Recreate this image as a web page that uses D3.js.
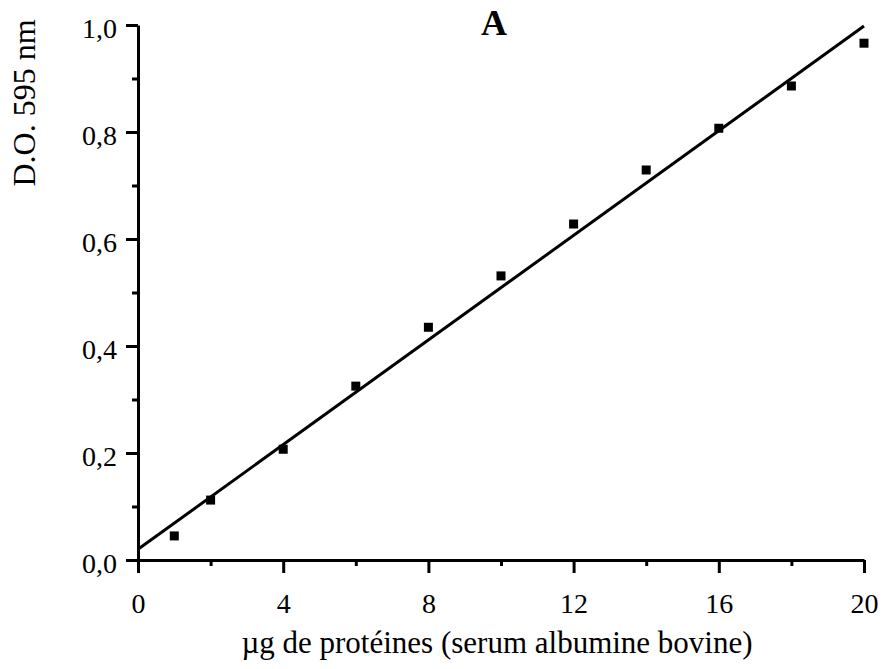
<!DOCTYPE html>
<html><head><meta charset="utf-8">
<script src="https://cdn.jsdelivr.net/npm/d3@7"></script>
<style>body{margin:0;background:#fff}svg{display:block}</style>
</head><body><svg id="c" width="885" height="669"></svg>
<script>
const proteinUg = [1, 2, 4, 6, 8, 10, 12, 14, 16, 18, 20];
const absorbance = [0.045, 0.112, 0.207, 0.325, 0.435, 0.531, 0.628, 0.729, 0.807, 0.886, 0.966];
const fitIntercept = 0.02;
const fitSlope = 0.0489;
const xTicks = [0, 4, 8, 12, 16, 20];
const xMinorTicks = [2, 6, 10, 14, 18];
const yTicks = [0, 0.2, 0.4, 0.6, 0.8, 1.0];
const yMinorTicks = [0.1, 0.3, 0.5, 0.7, 0.9];
const title = "A";
const xLabel = "µg de protéines (serum albumine bovine)";
const yLabel = "D.O. 595 nm";

const svg = d3.select("#c");
const font = "'Liberation Serif', 'Times New Roman', serif";
const x = d3.scaleLinear().domain([0, 20]).range([138, 864]);
const y = d3.scaleLinear().domain([0, 1]).range([560, 25]);
const fmt = d => d3.format(".1f")(d).replace(".", ",");

// axes
const xAxis = svg.append("g").attr("transform", `translate(0,${y(0)})`)
  .call(d3.axisBottom(x).tickValues(xTicks).tickSize(13).tickSizeOuter(0).tickFormat(d3.format("d")));
const xMinor = svg.append("g").attr("transform", `translate(0,${y(0)})`)
  .call(d3.axisBottom(x).tickValues(xMinorTicks).tickSize(6).tickSizeOuter(0).tickFormat(""));
const yAxis = svg.append("g").attr("transform", `translate(${x(0)},0)`)
  .call(d3.axisLeft(y).tickValues(yTicks).tickSize(12).tickSizeOuter(0).tickFormat(fmt));
const yMinor = svg.append("g").attr("transform", `translate(${x(0)},0)`)
  .call(d3.axisLeft(y).tickValues(yMinorTicks).tickSize(6).tickSizeOuter(0).tickFormat(""));
[xAxis, xMinor, yAxis, yMinor].forEach(g => {
  g.selectAll("path.domain").attr("stroke", "#000").attr("stroke-width", 3);
  g.selectAll(".tick line").attr("stroke", "#000").attr("stroke-width", 3);
});
xMinor.select("path.domain").remove();
yMinor.select("path.domain").remove();
xAxis.selectAll(".tick text").attr("font-family", font).attr("font-size", 28).attr("fill", "#000")
  .attr("y", 53).attr("dy", 0);
yAxis.selectAll(".tick text").attr("font-family", font).attr("font-size", 28).attr("fill", "#000")
  .attr("x", -21).attr("dy", "0.45em");

// fit line
svg.append("line")
  .attr("x1", x(0)).attr("y1", y(fitIntercept))
  .attr("x2", x(20)).attr("y2", y(fitIntercept + fitSlope * 20))
  .attr("stroke", "#000").attr("stroke-width", 3);

// points
svg.append("g").selectAll("rect").data(proteinUg).join("rect")
  .attr("x", (d) => x(d) - 4.5)
  .attr("y", (d, i) => y(absorbance[i]) - 4.5)
  .attr("width", 9).attr("height", 9).attr("fill", "#000");

// texts
svg.append("text").attr("x", 494).attr("y", 35).attr("text-anchor", "middle")
  .attr("font-family", font).attr("font-size", 36).attr("font-weight", "bold").text(title);
svg.append("text").attr("x", 497).attr("y", 653).attr("text-anchor", "middle")
  .attr("font-family", font).attr("font-size", 31).text(xLabel);
svg.append("text").attr("transform", "translate(35,103) rotate(-90)").attr("text-anchor", "middle")
  .attr("font-family", font).attr("font-size", 32).text(yLabel);
</script></body></html>
